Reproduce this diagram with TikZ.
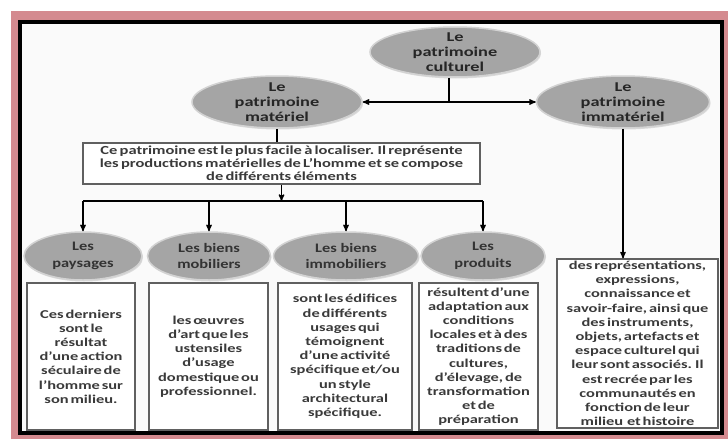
\documentclass[tikz,border=0pt]{standalone}
\usepackage{fontspec}
\setmainfont[FakeStretch=1.2]{Carlito}
\newfontfamily\ovalfont[FakeStretch=1.36]{Carlito}
\newfontfamily\rowfont[FakeStretch=1.26]{Carlito}
\newfontfamily\boxfont[FakeStretch=1.37, WordSpace=0.5]{Carlito}
\newfontfamily\descfont[FakeStretch=1.34, WordSpace=0.6]{Carlito}
\usepackage{tikz}
\usetikzlibrary{arrows}
\usetikzlibrary{positioning,shapes.geometric,shadows}

\definecolor{rimpink}{RGB}{212,138,143}
\definecolor{ovalgray}{RGB}{165,165,165}
\definecolor{textgray}{RGB}{58,58,58}

\tikzset{
  ovalnode/.style={ellipse, fill=ovalgray, draw=gray!35, line width=1.5pt, inner sep=0pt,
    drop shadow={opacity=.25, shadow xshift=1pt, shadow yshift=-1.5pt}},
  ovaltext/.style={align=center, text=black!85, font=\ovalfont\bfseries\fontsize{13.5}{15}\selectfont},
  rowtext/.style={align=center, text=black!80, font=\rowfont\bfseries\fontsize{13}{16.5}\selectfont},
  infobox/.style={rectangle, draw=gray!75!black, line width=1.2pt, fill=white, inner sep=0pt,
    align=center, text=textgray, font=\boxfont\bfseries\fontsize{12}{14.2}\selectfont},
  link/.style={black, line width=1.3pt},
}

\begin{document}
\begin{tikzpicture}[x=1pt, y=-1pt, >=stealth']
\useasboundingbox (0,0) rectangle (728,439);
% frame
\fill[rimpink] (11,11) rectangle (728,439);
\draw[line width=4pt, fill=white!98!black] (20,22) rectangle (722,433);

% top level
\node[ovalnode, minimum width=170pt, minimum height=50pt,
  label={[ovaltext]center:Le\\patrimoine\\culturel}] (culturel) at (455,52) {};
\node[ovalnode, minimum width=170pt, minimum height=52pt,
  label={[ovaltext]center:Le\\patrimoine\\matériel}] (materiel) at (277,102) {};
\node[ovalnode, minimum width=173pt, minimum height=52pt,
  label={[ovaltext]center:Le\\patrimoine\\immatériel}] (immateriel) at (623,102) {};

\coordinate (split) at (449,102);
\draw[link] (split |- culturel.south) -- (split);
\draw[link,->] (split) -- (materiel.east);
\draw[link,->] (split) -- (immateriel.west);

\node[infobox, minimum width=397pt, minimum height=41pt,
  font=\descfont\bfseries\fontsize{12.3}{13}\selectfont] (descmat) at (281.5,163.5)
  {Ce patrimoine est le plus facile à localiser. Il représente\\
   les productions matérielles de L’homme et se compose\\
   de différents éléments};
\draw[link] (materiel.south) -- (materiel.south |- descmat.north);

% second level
\foreach \name/\xc/\ew/\txt in {paysages/83/118/{Les\\paysages},
    mobiliers/209/123/{Les biens\\mobiliers},
    immobiliers/346/145/{Les biens\\immobiliers},
    produits/483/124/{Les\\produits}} {
  \node[ovalnode, minimum width=\ew pt, minimum height=48pt,
    label={[rowtext]center:\txt}] (\name) at (\xc,256) {};
}
\coordinate (bar) at (0,201);
\draw[link,->] (descmat.south) -- (descmat.south |- bar);
\draw[link] (paysages.north |- bar) -- (produits.north |- bar);
\foreach \n in {paysages,mobiliers,immobiliers,produits} {
  \draw[link,->] (\n.north |- bar) -- (\n.north);
}

\node[infobox, minimum width=108pt, minimum height=147pt] (paysbox) at (81,356.5)
  {Ces derniers\\sont le\\résultat\\d’une action\\séculaire de\\l’homme sur\\son milieu.};
\node[infobox, minimum width=119pt, minimum height=147pt] (mobbox) at (208.5,356.5)
  {les œuvres\\d’art que les\\ustensiles\\d’usage\\domestique ou\\professionnel.};
\node[infobox, minimum width=134pt, minimum height=147pt] (immobbox) at (345,356.5)
  {sont les édifices\\de différents\\usages qui\\témoignent\\d’une activité\\spécifique et/ou\\un style\\architectural\\spécifique.};
\node[infobox, minimum width=119pt, minimum height=147pt] (prodbox) at (478.5,356.5)
  {résultent d’une\\adaptation aux\\conditions\\locales et à des\\traditions de\\cultures,\\d’élevage, de\\transformation\\et de\\préparation};

\node[infobox, minimum width=161pt, minimum height=169pt] (imbox) at (637.5,343.5)
  {des représentations,\\expressions,\\connaissance et\\savoir-faire, ainsi que\\des instruments,\\objets, artefacts et\\espace culturel qui\\leur sont associés. Il\\est recrée par les\\communautés en\\fonction de leur\\milieu\ \ et histoire};
\draw[link,->] (immateriel.south) -- (immateriel.south |- imbox.north);
\end{tikzpicture}
\end{document}
